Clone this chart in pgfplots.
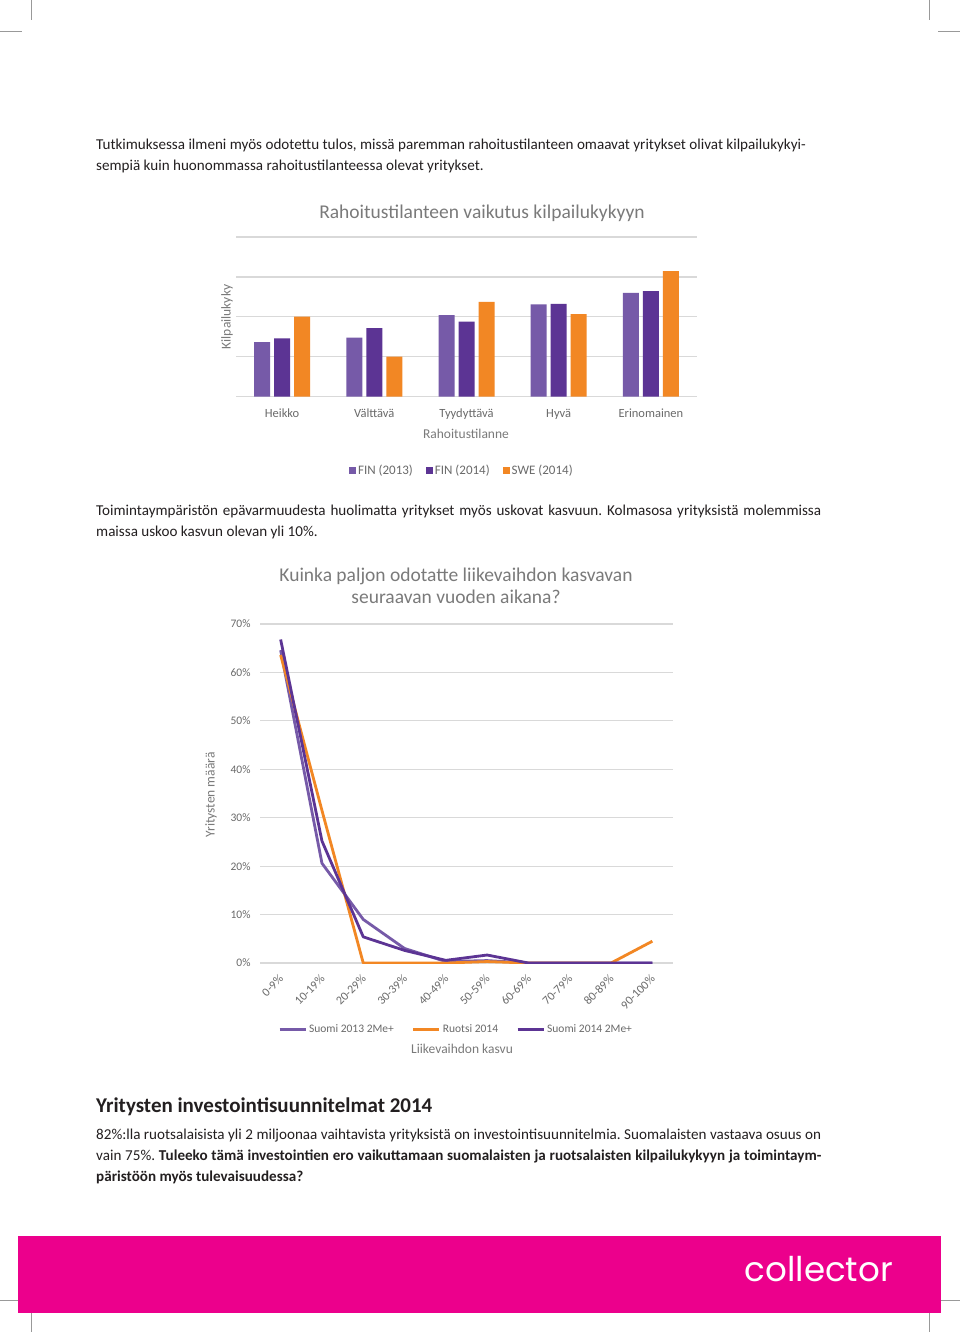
\documentclass[border=0pt]{standalone}
\usepackage{pgfplots}
\pgfplotsset{compat=1.18}
\usepackage{fontspec}
\setmainfont{Carlito}
\newfontfamily\logofont{Poppins}
\definecolor{pA}{HTML}{765AA8}
\definecolor{pB}{HTML}{5C3494}
\definecolor{oC}{HTML}{F28724}
\definecolor{pinkb}{HTML}{EC008C}
\definecolor{gridc}{HTML}{D9D9D9}
\definecolor{txtc}{HTML}{6A6A6A}
\definecolor{titc}{HTML}{7A7A7A}
\definecolor{bodyc}{HTML}{231F20}
\newcommand{\fs}[1]{\fontsize{#1}{#1}\selectfont}
\frenchspacing
\begin{document}
\begin{tikzpicture}[x=1pt,y=1pt]
\path[use as bounding box, fill=white] (0,0) rectangle (960,-1332);
% crop marks
\draw[gray!80, line width=0.6pt] (31,0) -- (31,-20) (0,-31) -- (22,-31)
  (929,0) -- (929,-20) (938,-31) -- (960,-31)
  (0,-1300) -- (22,-1300) (31,-1311) -- (31,-1332)
  (938,-1300) -- (960,-1300) (929,-1311) -- (929,-1332);
% body text
\begin{scope}[every node/.style={anchor=base west, inner sep=0pt, text=bodyc}]
\node at (96,-150) {\fs{15.1}Tutkimuksessa ilmeni myös odotettu tulos, missä paremman rahoitustilanteen omaavat yritykset olivat kilpailukykyi-};
\node at (96,-171) {\fs{15.1}sempiä kuin huonommassa rahoitustilanteessa olevat yritykset.};
\node at (96,-515) {\fs{15.1}\makebox[725pt][s]{Toimintaympäristön epävarmuudesta huolimatta yritykset myös uskovat kasvuun. Kolmasosa yrityksistä molemmissa}};
\node at (96,-536) {\fs{15.1}maissa uskoo kasvun olevan yli 10\%.};
\node at (96,-1112) {\fs{21}\bfseries Yritysten investointisuunnitelmat 2014};
\node at (96,-1139) {\fs{15.1}\makebox[725pt][s]{82\%:lla ruotsalaisista yli 2 miljoonaa vaihtavista yrityksistä on investointisuunnitelmia. Suomalaisten vastaava osuus on}};
\node at (96,-1160) {\fs{15.1}\makebox[725pt][s]{vain 75\%. \bfseries Tuleeko tämä investointien ero vaikuttamaan suomalaisten ja ruotsalaisten kilpailukykyyn ja toimintaym-}};
\node at (96,-1181) {\fs{15.1}\bfseries päristöön myös tulevaisuudessa?};
\end{scope}
% chart 1 labels
\node[text=titc] at (482,-213) {\fs{19.5}Rahoitustilanteen vaikutus kilpailukykyyn};
\node[text=titc, rotate=90] at (227,-317) {\fs{13.5}Kilpailukyky};
\node[text=titc] at (466,-434) {\fs{13.5}Rahoitustilanne};
\begin{axis}[at={(236pt,-396.7pt)}, anchor=south west, scale only axis,
  width=461pt, height=159.7pt,
  xmin=-0.5, xmax=4.5, ymin=0, ymax=4,
  ybar=4pt, bar width=16pt,
  axis line style={draw=none}, major tick length=0pt,
  xtick={0,1,2,3,4}, xticklabels={Heikko,Välttävä,Tyydyttävä,Hyvä,Erinomainen},
  ytick={0,1,2,3,4}, yticklabels={},
  ymajorgrids, grid style={gridc, line width=1.2pt},
  xticklabel style={font=\fs{12.5}, text=txtc, anchor=base, yshift=-20.5pt},
  legend columns=3,
  legend style={at={(0.49,-0.465)}, anchor=center, draw=none, fill=none,
    font=\fs{13}, text=txtc, inner sep=0pt,
    /tikz/every even column/.append style={column sep=11pt}},
  legend cell align=left,
]
\addplot[fill=pA, draw=none, legend image code/.code={\fill[pA] (0pt,-3.5pt) rectangle (7pt,3.5pt);}] coordinates {(0,1.364) (1,1.481) (2,2.042) (3,2.310) (4,2.603)};
\addlegendentry{FIN (2013)}
\addplot[fill=pB, draw=none, legend image code/.code={\fill[pB] (0pt,-3.5pt) rectangle (7pt,3.5pt);}] coordinates {(0,1.464) (1,1.715) (2,1.883) (3,2.326) (4,2.644)};
\addlegendentry{FIN (2014)}
\addplot[fill=oC, draw=none, legend image code/.code={\fill[oC] (0pt,-3.5pt) rectangle (7pt,3.5pt);}] coordinates {(0,2.008) (1,1.004) (2,2.377) (3,2.067) (4,3.146)};
\addlegendentry{SWE (2014)}
\end{axis}
% chart 2 labels
\node[text=titc] at (456,-576) {\fs{19.5}Kuinka paljon odotatte liikevaihdon kasvavan};
\node[text=titc] at (456,-597) {\fs{19.5}seuraavan vuoden aikana?};
\node[text=titc, rotate=90] at (211,-795) {\fs{13.5}Yritysten määrä};
\node[text=titc] at (462,-1049) {\fs{13.5}Liikevaihdon kasvu};
\begin{axis}[at={(260pt,-963pt)}, anchor=south west, scale only axis,
  width=413pt, height=339pt,
  xmin=-0.5, xmax=9.5, ymin=0, ymax=70,
  axis line style={draw=none}, major tick length=0pt,
  xtick={0,...,9},
  xticklabels={0-9\%,10-19\%,20-29\%,30-39\%,40-49\%,50-59\%,60-69\%,70-79\%,80-89\%,90-100\%},
  ytick={0,10,...,70}, yticklabels={0\%,10\%,20\%,30\%,40\%,50\%,60\%,70\%},
  ymajorgrids, grid style={gridc, line width=1.2pt},
  yticklabel style={font=\fs{11.5}, text=txtc, anchor=east, xshift=-6pt},
  xticklabel style={font=\fs{12}, text=txtc, xshift=3pt, yshift=-11.5pt, rotate=45, anchor=east},
  legend columns=3,
  legend style={at={(0.4746,-0.195)}, anchor=center, draw=none, fill=none,
    font=\fs{11.5}, text=txtc, inner sep=0pt,
    /tikz/every even column/.append style={column sep=16pt}},
  legend cell align=left,
  every axis plot/.append style={line width=2.8pt, line join=round},
]
\addplot[pA, legend image code/.code={\draw[pA, line width=3pt] (0pt,0pt) -- (26pt,0pt);}] coordinates {(0,64.6) (1,20.6) (2,9.0) (3,3.0) (4,0.3) (5,0.5) (6,0) (7,0) (8,0) (9,0)};
\addlegendentry{Suomi 2013 2Me+}
\addplot[oC, legend image code/.code={\draw[oC, line width=3pt] (0pt,0pt) -- (26pt,0pt);}] coordinates {(0,63.6) (1,31.5) (2,0) (3,0) (4,0) (5,0.3) (6,0) (7,0) (8,0) (9,4.5)};
\addlegendentry{Ruotsi 2014}
\addplot[pB, legend image code/.code={\draw[pB, line width=3pt] (0pt,0pt) -- (26pt,0pt);}] coordinates {(0,66.8) (1,25.2) (2,5.4) (3,2.6) (4,0.55) (5,1.65) (6,0) (7,0) (8,0) (9,0)};
\addlegendentry{Suomi 2014 2Me+}
\end{axis}
% banner
\fill[pinkb] (18,-1236) rectangle (941,-1313);
\node[anchor=base east, inner sep=0pt, text=white] at (893,-1281) {\resizebox{148pt}{!}{\logofont collector}};
\end{tikzpicture}
\end{document}
